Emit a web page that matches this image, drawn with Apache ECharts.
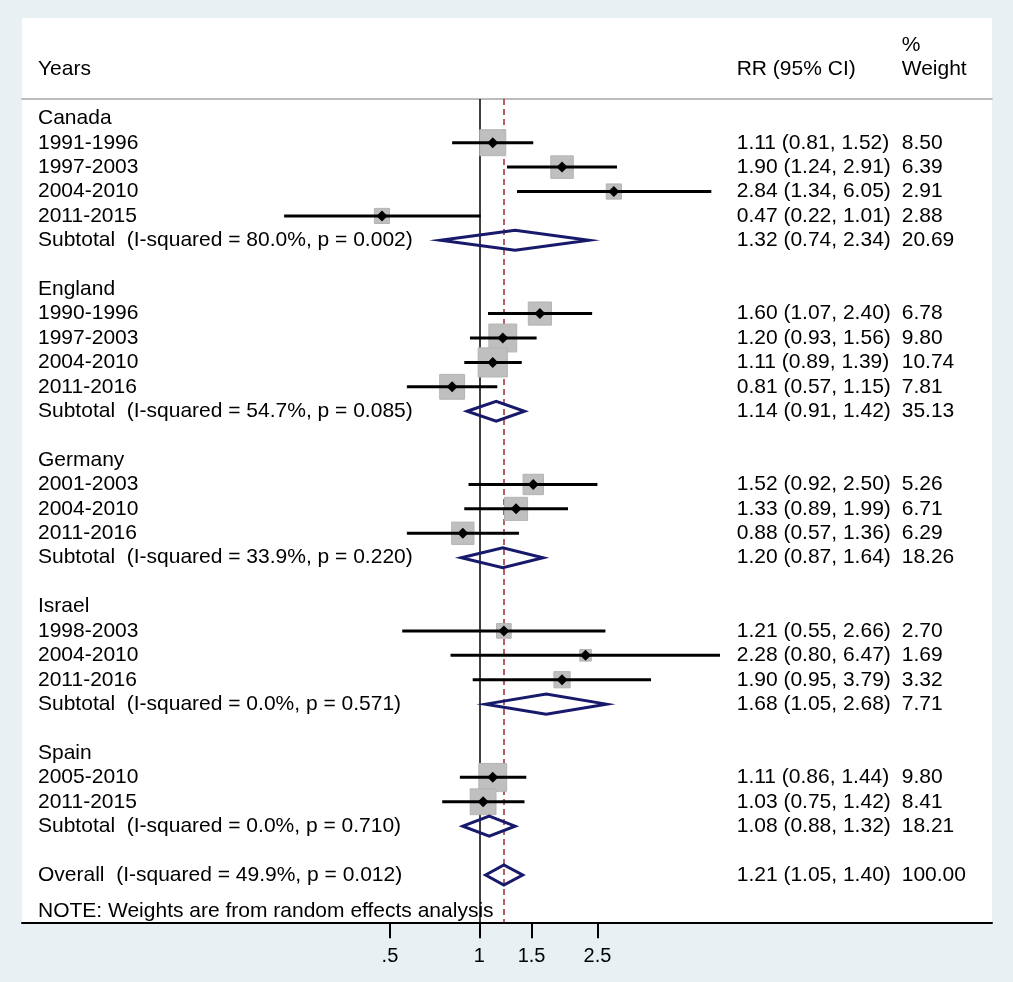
<!DOCTYPE html>
<html>
<head>
<meta charset="utf-8">
<title>Forest plot</title>
<script src="https://cdn.jsdelivr.net/npm/echarts@6/dist/echarts.min.js"></script>
<style>
  html, body { margin: 0; padding: 0; background: #e8f0f3; }
  #main { width: 1013px; height: 982px; }
</style>
</head>
<body>
<div id="main"></div>
<script>
// one entry per row, top to bottom ('' = spacer row)
var rowLabels = [
    'Canada', '1991-1996', '1997-2003', '2004-2010', '2011-2015',
    'Subtotal  (I-squared = 80.0%, p = 0.002)', '',
    'England', '1990-1996', '1997-2003', '2004-2010', '2011-2016',
    'Subtotal  (I-squared = 54.7%, p = 0.085)', '',
    'Germany', '2001-2003', '2004-2010', '2011-2016',
    'Subtotal  (I-squared = 33.9%, p = 0.220)', '',
    'Israel', '1998-2003', '2004-2010', '2011-2016',
    'Subtotal  (I-squared = 0.0%, p = 0.571)', '',
    'Spain', '2005-2010', '2011-2015',
    'Subtotal  (I-squared = 0.0%, p = 0.710)', '',
    'Overall  (I-squared = 49.9%, p = 0.012)'
];
// 0 = heading / spacer, 1 = study, 2 = pooled (diamond)
var rowKind = [
    0, 1, 1, 1, 1, 2, 0,
    0, 1, 1, 1, 1, 2, 0,
    0, 1, 1, 1, 2, 0,
    0, 1, 1, 1, 2, 0,
    0, 1, 1, 2, 0,
    2
];
var estimates = [
    null, 1.11, 1.90, 2.84, 0.47, 1.32, null,
    null, 1.60, 1.20, 1.11, 0.81, 1.14, null,
    null, 1.52, 1.33, 0.88, 1.20, null,
    null, 1.21, 2.28, 1.90, 1.68, null,
    null, 1.11, 1.03, 1.08, null,
    1.21
];
var ciLow = [
    null, 0.81, 1.24, 1.34, 0.22, 0.74, null,
    null, 1.07, 0.93, 0.89, 0.57, 0.91, null,
    null, 0.92, 0.89, 0.57, 0.87, null,
    null, 0.55, 0.80, 0.95, 1.05, null,
    null, 0.86, 0.75, 0.88, null,
    1.05
];
var ciHigh = [
    null, 1.52, 2.91, 6.05, 1.01, 2.34, null,
    null, 2.40, 1.56, 1.39, 1.15, 1.42, null,
    null, 2.50, 1.99, 1.36, 1.64, null,
    null, 2.66, 6.47, 3.79, 2.68, null,
    null, 1.44, 1.42, 1.32, null,
    1.40
];
var weights = [
    null, 8.50, 6.39, 2.91, 2.88, 20.69, null,
    null, 6.78, 9.80, 10.74, 7.81, 35.13, null,
    null, 5.26, 6.71, 6.29, 18.26, null,
    null, 2.70, 1.69, 3.32, 7.71, null,
    null, 9.80, 8.41, 18.21, null,
    100.00
];
var noteText = 'NOTE: Weights are from random effects analysis';
var tickValues = [0.5, 1, 1.5, 2.5];
var tickLabels = ['.5', '1', '1.5', '2.5'];

// layout (pixels)
var ROW0 = 118.3, STEP = 24.41;
var PANEL_L = 22, PANEL_R = 992, PANEL_T = 18, LINE_T = 99, AXIS_Y = 922.3;
var X_ONE = 479.3, PX_PER_LN = 128.9;
var FONT = '"Liberation Sans", Arial, sans-serif';

function rowAt(px) { return (px - ROW0) / STEP; }
var xMin = Math.exp((PANEL_L - X_ONE) / PX_PER_LN);
var xMax = Math.exp((PANEL_R - X_ONE) / PX_PER_LN);
var overallRR = estimates[estimates.length - 1];

// text of each column, keyed by row position
var leftText = { '-2': 'Years' };
var rrText = { '-2': 'RR (95% CI)' };
var wText = { '-3': '%', '-2': 'Weight' };
var marks = [];
rowLabels.forEach(function (lab, i) {
    if (lab) leftText[i] = lab;
    if (estimates[i] != null) {
        rrText[i] = estimates[i].toFixed(2) + ' (' + ciLow[i].toFixed(2) + ', ' + ciHigh[i].toFixed(2) + ')';
        wText[i] = weights[i].toFixed(2);
        marks.push([estimates[i], i, ciLow[i], ciHigh[i], weights[i], rowKind[i]]);
    }
});
leftText['32.5'] = noteText;

function keysOf(o) { return Object.keys(o).map(Number); }

function textAxis(grid, dict, margin) {
    return {
        gridIndex: grid, type: 'value', inverse: true,
        min: rowAt(PANEL_T), max: rowAt(AXIS_Y),
        axisLine: { show: false }, axisTick: { show: false }, splitLine: { show: false },
        axisLabel: {
            inside: true, margin: margin, color: '#000', fontSize: 21, fontFamily: FONT,
            customValues: keysOf(dict),
            formatter: function (v) { return dict[v] !== undefined ? dict[v] : ''; }
        }
    };
}

function renderRow(params, api) {
    var row = api.value(1);
    var mid = api.coord([api.value(0), row]);
    var x1 = api.coord([api.value(2), row])[0];
    var x2 = api.coord([api.value(3), row])[0];
    if (api.value(5) === 1) {
        var side = 8.9 * Math.sqrt(api.value(4));
        var d = 5.5;
        return {
            type: 'group',
            children: [
                { type: 'rect', shape: { x: mid[0] - side / 2, y: mid[1] - side / 2, width: side, height: side },
                  style: { fill: '#bfbfbf', stroke: '#b3b3b3', lineWidth: 1 } },
                { type: 'line', shape: { x1: x1, y1: mid[1], x2: x2, y2: mid[1] },
                  style: { stroke: '#000', lineWidth: 3 } },
                { type: 'polygon', shape: { points: [[mid[0] - d, mid[1]], [mid[0], mid[1] - d], [mid[0] + d, mid[1]], [mid[0], mid[1] + d]] },
                  style: { fill: '#000' } }
            ]
        };
    }
    return {
        type: 'polygon',
        shape: { points: [[x1, mid[1]], [mid[0], mid[1] - 10], [x2, mid[1]], [mid[0], mid[1] + 10]] },
        style: { fill: 'none', stroke: '#17196b', lineWidth: 3 }
    };
}

var myChart = echarts.init(document.getElementById('main'));
var option = {
    animation: false,
    backgroundColor: '#e8f0f3',
    grid: [
        // white panel, left label column
        { left: PANEL_L, top: PANEL_T, width: PANEL_R - PANEL_L, height: AXIS_Y - PANEL_T,
          show: true, backgroundColor: '#fff', borderWidth: 0 },
        // plot area
        { left: PANEL_L, top: LINE_T, width: PANEL_R - PANEL_L, height: AXIS_Y - LINE_T },
        // RR (95% CI) column
        { left: 736.7, top: PANEL_T, width: 150, height: AXIS_Y - PANEL_T },
        // weight column
        { left: 901.7, top: PANEL_T, width: 80, height: AXIS_Y - PANEL_T }
    ],
    xAxis: [
        { gridIndex: 0, type: 'value', show: false },
        {
            gridIndex: 1, type: 'log', logBase: Math.E, min: xMin, max: xMax, position: 'bottom',
            axisLine: { onZero: false, lineStyle: { color: '#000', width: 2 } },
            axisTick: { show: true, length: 16, lineStyle: { color: '#000', width: 2 }, customValues: tickValues },
            axisLabel: {
                customValues: tickValues, margin: 24, color: '#000', fontSize: 20, fontFamily: FONT,
                formatter: function (v) {
                    for (var i = 0; i < tickValues.length; i++) {
                        if (Math.abs(tickValues[i] - v) < 1e-6) return tickLabels[i];
                    }
                    return '';
                }
            },
            splitLine: { show: false }, minorTick: { show: false }
        },
        {
            gridIndex: 1, type: 'log', logBase: Math.E, min: xMin, max: xMax, position: 'top',
            axisLine: { onZero: false, lineStyle: { color: '#a6a6a6', width: 1.5 } },
            axisTick: { show: false }, axisLabel: { show: false }, splitLine: { show: false }
        },
        { gridIndex: 2, type: 'value', show: false },
        { gridIndex: 3, type: 'value', show: false }
    ],
    yAxis: [
        textAxis(0, leftText, 16),
        { gridIndex: 1, type: 'value', inverse: true, min: rowAt(LINE_T), max: rowAt(AXIS_Y), show: false },
        textAxis(2, rrText, 0),
        textAxis(3, wText, 0)
    ],
    series: [
        {
            type: 'line', xAxisIndex: 1, yAxisIndex: 1, data: [], symbol: 'none', silent: true,
            markLine: {
                z: 1, silent: true, symbol: ['none', 'none'], label: { show: false },
                data: [
                    { xAxis: 1, lineStyle: { color: '#000', width: 1.5, type: 'solid' } },
                    { xAxis: overallRR, lineStyle: { color: '#9e2a33', width: 1.5, type: [6, 4] } }
                ]
            }
        },
        {
            type: 'custom', xAxisIndex: 1, yAxisIndex: 1, z: 3, silent: true,
            renderItem: renderRow,
            data: marks
        }
    ]
};
myChart.setOption(option, true);
</script>
</body>
</html>
